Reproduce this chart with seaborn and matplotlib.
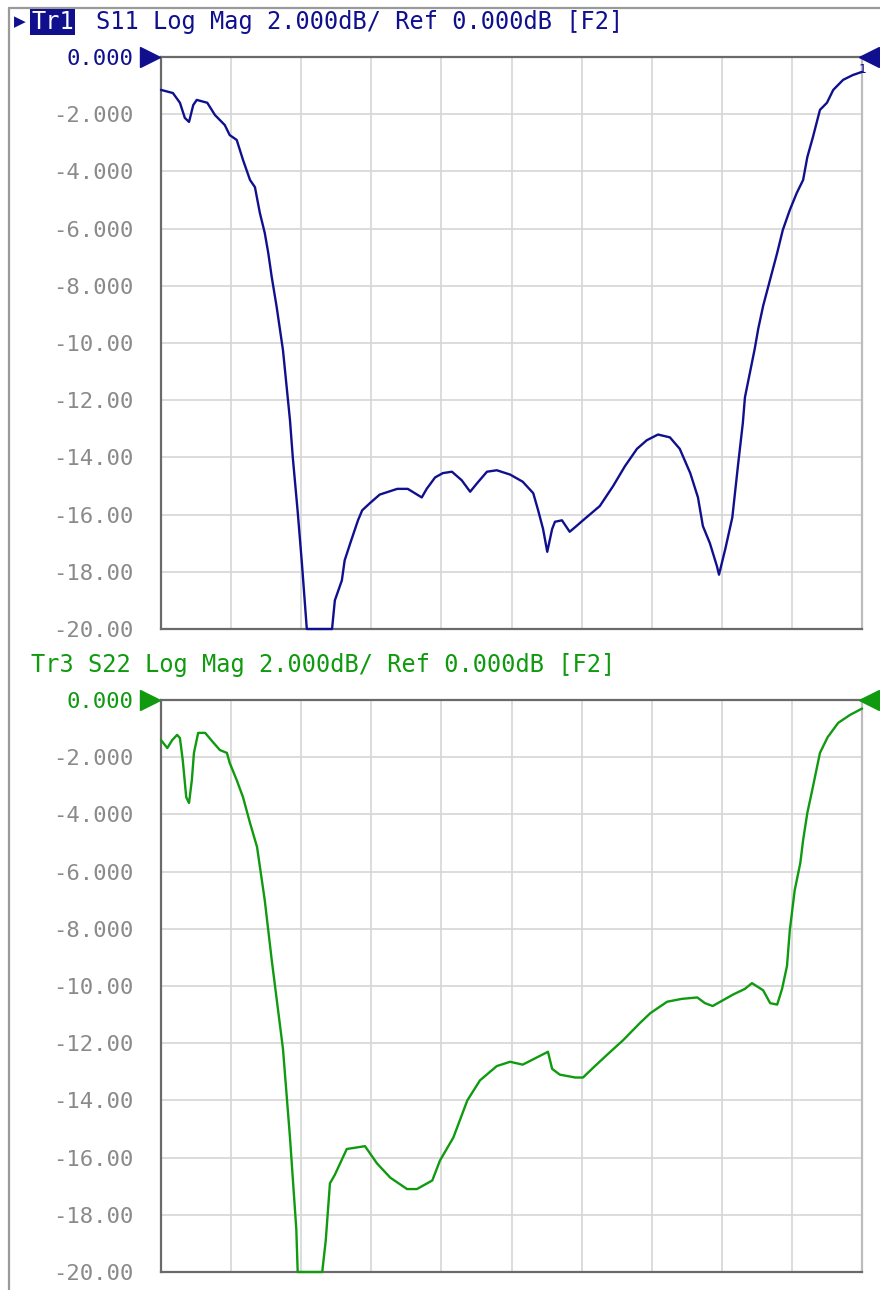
import seaborn as sns
import matplotlib.pyplot as plt
from matplotlib.lines import Line2D

# S11 trace, x in grid divisions (0..10), y in dB
s11_div = [0.00, 0.17, 0.27, 0.34, 0.40, 0.46, 0.51, 0.66, 0.77, 0.91, 0.98, 1.08, 1.17, 1.27, 1.34,
           1.41, 1.48, 1.53, 1.58, 1.65, 1.74, 1.84, 1.88, 1.95, 2.01, 2.08, 2.44, 2.48, 2.58, 2.62,
           2.70, 2.81, 2.87, 2.98, 3.12, 3.37, 3.52, 3.72, 3.79, 3.91, 4.02, 4.15, 4.29, 4.41, 4.51,
           4.65, 4.79, 4.98, 5.16, 5.31, 5.38, 5.45, 5.51, 5.58, 5.62, 5.72, 5.83, 5.95, 6.02, 6.26,
           6.45, 6.62, 6.79, 6.93, 7.09, 7.26, 7.40, 7.55, 7.66, 7.73, 7.83, 7.93, 7.96, 8.05, 8.15,
           8.23, 8.30, 8.33, 8.40, 8.47, 8.52, 8.59, 8.66, 8.79, 8.87, 8.97, 9.07, 9.16, 9.22, 9.30,
           9.40, 9.50, 9.59, 9.73, 9.87, 10.00]
s11_db = [-1.15, -1.26, -1.6, -2.13, -2.27, -1.68, -1.5, -1.6, -2.03, -2.38, -2.73, -2.9, -3.6, -4.3, -4.55,
          -5.45, -6.15, -6.85, -7.7, -8.74, -10.25, -12.7, -14.0, -15.9, -17.7, -20.0, -20.0, -19.0, -18.3, -17.6,
          -17.0, -16.2, -15.85, -15.6, -15.3, -15.1, -15.1, -15.4, -15.1, -14.7, -14.55, -14.5, -14.8, -15.2, -14.9,
          -14.5, -14.45, -14.6, -14.85, -15.25, -15.85, -16.5, -17.3, -16.5, -16.25, -16.2, -16.6, -16.35, -16.2, -15.7,
          -15.0, -14.3, -13.7, -13.4, -13.2, -13.3, -13.7, -14.55, -15.4, -16.4, -17.0, -17.8, -18.1, -17.2, -16.1,
          -14.3, -12.8, -11.9, -11.05, -10.2, -9.5, -8.7, -8.05, -6.85, -6.05, -5.35, -4.75, -4.3, -3.5, -2.8,
          -1.85, -1.6, -1.15, -0.8, -0.63, -0.52]

# S22 trace
s22_div = [0.00, 0.09, 0.16, 0.23, 0.27, 0.31, 0.36, 0.40, 0.44, 0.47, 0.53, 0.63, 0.74, 0.84, 0.94,
           0.98, 1.08, 1.17, 1.27, 1.37, 1.48, 1.58, 1.74, 1.84, 1.93, 1.95, 2.30, 2.35, 2.41, 2.48,
           2.65, 2.91, 3.08, 3.27, 3.51, 3.65, 3.87, 3.98, 4.17, 4.37, 4.55, 4.79, 4.98, 5.16, 5.36,
           5.52, 5.58, 5.69, 5.91, 6.02, 6.19, 6.41, 6.59, 6.83, 6.98, 7.22, 7.43, 7.65, 7.76, 7.87,
           8.16, 8.33, 8.43, 8.59, 8.69, 8.79, 8.86, 8.93, 8.97, 9.04, 9.12, 9.16, 9.22, 9.29, 9.40,
           9.51, 9.66, 9.83, 10.00]
s22_db = [-1.4, -1.68, -1.4, -1.22, -1.33, -2.1, -3.4, -3.6, -2.8, -1.85, -1.15, -1.15, -1.47, -1.75, -1.85,
          -2.2, -2.8, -3.4, -4.3, -5.14, -7.0, -9.1, -12.2, -15.3, -18.5, -20.0, -20.0, -18.9, -16.9, -16.6,
          -15.7, -15.6, -16.2, -16.7, -17.1, -17.1, -16.8, -16.1, -15.3, -14.0, -13.3, -12.8, -12.65, -12.75, -12.5,
          -12.3, -12.9, -13.1, -13.2, -13.2, -12.8, -12.3, -11.9, -11.3, -10.95, -10.55, -10.45, -10.4, -10.6, -10.7,
          -10.3, -10.1, -9.9, -10.15, -10.6, -10.65, -10.1, -9.3, -8.05, -6.65, -5.7, -4.9, -3.95, -3.15, -1.85,
          -1.3, -0.8, -0.52, -0.3]

y_ticks = [0, -2, -4, -6, -8, -10, -12, -14, -16, -18, -20]
y_labels = ['0.000', '-2.000', '-4.000', '-6.000', '-8.000', '-10.00',
            '-12.00', '-14.00', '-16.00', '-18.00', '-20.00']
x_grid = list(range(11))

blue = '#10108f'
green = '#0f9a0f'
mono = 'DejaVu Sans Mono'

sns.set_style('white')
plt.rcParams['font.family'] = [mono, 'DejaVu Sans']
plt.rcParams['axes.unicode_minus'] = False

fig = plt.figure(figsize=(8.8, 12.9), dpi=100)
ax1 = fig.add_axes([161 / 880, 661 / 1290, 701 / 880, 572 / 1290])
ax2 = fig.add_axes([161 / 880, 18 / 1290, 701 / 880, 572 / 1290])

for ax, xs, ys, col in [(ax1, s11_div, s11_db, blue), (ax2, s22_div, s22_db, green)]:
    for g in x_grid[1:-1]:
        ax.axvline(g, color='#d6d6d6', lw=1.2, zorder=0)
    for t in y_ticks[1:-1]:
        ax.axhline(t, color='#d6d6d6', lw=1.2, zorder=0)
    sns.lineplot(x=xs, y=ys, ax=ax, color=col, lw=1.7, sort=False, zorder=4, clip_on=False)
    ax.set_xlim(0, 10)
    ax.set_ylim(-20, 0)
    ax.set_xticks([])
    ax.set_yticks(y_ticks)
    ax.set_yticklabels(y_labels, fontsize=16, color='#8a8a8a')
    ax.get_yticklabels()[0].set_color(col)
    ax.tick_params(axis='y', length=0, pad=20)
    for side in ['top', 'left', 'bottom']:
        ax.spines[side].set_color('#6a6a6a')
        ax.spines[side].set_linewidth(1.6)
    ax.spines['right'].set_color('#bdbdbd')
    ax.spines['right'].set_linewidth(1.6)
    # reference markers
    ax.plot([-0.16], [0], marker='>', ms=15, color=col, clip_on=False, zorder=5)
    ax.plot([10.1], [0], marker='<', ms=15, color=col, clip_on=False, zorder=5)

ax1.text(10.0, -0.45, '1', fontsize=9, color=blue, ha='center', va='center', zorder=6)

# trace headers
fig.text(14 / 880, 1 - 22 / 1290, '\u25b6', fontsize=11, color=blue, family='DejaVu Sans',
         ha='left', va='center')
fig.text(31 / 880, 1 - 22 / 1290, 'Tr1', fontsize=17, color='white', ha='left', va='center',
         bbox=dict(facecolor=blue, edgecolor='none', pad=0.6))
fig.text(96 / 880, 1 - 22 / 1290, 'S11 Log Mag 2.000dB/ Ref 0.000dB [F2]', fontsize=17, color=blue,
         ha='left', va='center')
fig.text(31 / 880, 1 - 665 / 1290, 'Tr3 S22 Log Mag 2.000dB/ Ref 0.000dB [F2]', fontsize=17, color=green,
         ha='left', va='center')

# outer frame
fig.add_artist(Line2D([9 / 880, 9 / 880], [0, 1 - 8 / 1290], color='#9a9a9a', lw=1.6))
fig.add_artist(Line2D([9 / 880, 1], [1 - 8 / 1290, 1 - 8 / 1290], color='#9a9a9a', lw=1.6))

fig.savefig('out.png', dpi=100)
